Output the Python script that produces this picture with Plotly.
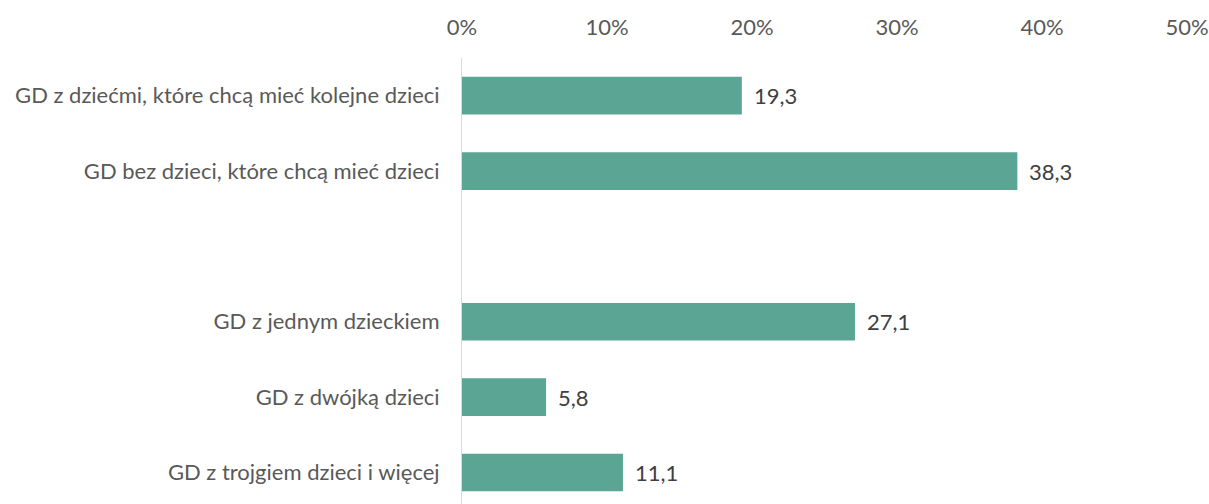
import plotly.graph_objects as go

CATEGORIES = [
    "GD z dziećmi, które chcą mieć kolejne dzieci",
    "GD bez dzieci, które chcą mieć dzieci",
    " ",
    "GD z jednym dzieckiem",
    "GD z dwójką dzieci",
    "GD z trojgiem dzieci i więcej",
]
VALUES = [19.3, 38.3, None, 27.1, 5.8, 11.1]
TICK_VALUES = [0, 10, 20, 30, 40, 50]
TICK_LABELS = ["0%", "10%", "20%", "30%", "40%", "50%"]

BAR = "#5ba594"
TEXT = "#595959"
FONT = "Lato"
SIZE = 22

fig = go.Figure(
    go.Bar(
        x=VALUES,
        y=CATEGORIES,
        orientation="h",
        marker={"color": BAR, "line": {"width": 0}},
        width=0.5,
        hoverinfo="skip",
    )
)

for cat, val in zip(CATEGORIES, VALUES):
    if val is None:
        continue
    fig.add_annotation(
        x=val,
        y=cat,
        text=f"{val:.1f}".replace(".", ","),
        showarrow=False,
        xanchor="left",
        xshift=10,
        font={"family": FONT, "size": SIZE, "color": "#404040"},
    )

fig.update_layout(
    width=1209,
    height=504,
    margin={"l": 462, "r": 22, "t": 58, "b": 0, "autoexpand": False},
    plot_bgcolor="white",
    paper_bgcolor="white",
    showlegend=False,
    font={"family": FONT, "size": SIZE, "color": TEXT},
    xaxis={
        "range": [0, 50],
        "side": "top",
        "tickvals": TICK_VALUES,
        "ticktext": TICK_LABELS,
        "showgrid": False,
        "zeroline": False,
        "showline": False,
        "ticks": "",
        "ticklabelstandoff": 18,
        "automargin": False,
        "fixedrange": True,
    },
    yaxis={
        "type": "category",
        "categoryorder": "array",
        "categoryarray": CATEGORIES,
        "range": [5.418, -0.5],
        "showgrid": False,
        "zeroline": False,
        "showline": True,
        "linecolor": "#d9d9d9",
        "linewidth": 1,
        "ticks": "",
        "ticklabelstandoff": 17,
        "automargin": False,
        "fixedrange": True,
    },
)

# drop the default page margin so the figure fills the window exactly
fig.write_html(
    "out.html",
    config={"displayModeBar": False},
    post_script="document.body.style.margin='0';",
)
